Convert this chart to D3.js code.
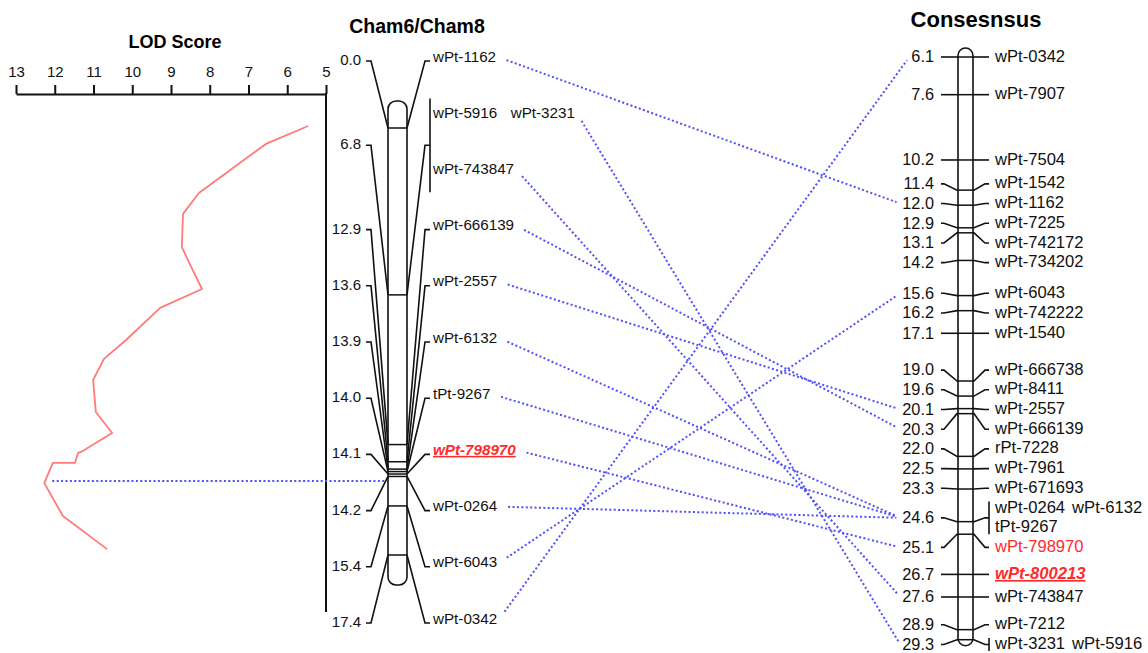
<!DOCTYPE html>
<html><head><meta charset="utf-8">
<script src="https://cdn.jsdelivr.net/npm/d3@7"></script>
<style>
body{margin:0;background:#fff}
svg{display:block}
text{font-family:"Liberation Sans",Arial,Helvetica,sans-serif}
</style>
</head><body>
<svg id="chart" width="1148" height="653"></svg>
<script>
// ---------------- DATA ----------------
const lodTicks = [13, 12, 11, 10, 9, 8, 7, 6, 5];
// LOD curve: position along Cham6/Cham8 (cM) and LOD score
const lodPositions = [-0.08, 0.65, 2.65, 3.5, 4.85, 5.66, 6.56, 7.33, 8.64, 9.41, 10.27, 11.57, 12.43, 13.2, 13.24, 13.65, 13.65, 14.47, 15.81, 17.16];
const lodScores    = [5.46, 6.55, 8.28, 8.69, 8.72, 8.48, 8.2, 9.28, 10.16, 10.73, 11.01, 10.94, 10.52, 11.32, 11.4, 11.48, 12.05, 12.27, 11.79, 10.65];
const qtlPeakPosition = 14.38;

const leftTitle = "Cham6/Cham8";
const leftPositions = [0.0, 6.8, 12.9, 13.6, 13.9, 14.0, 14.1, 14.2, 15.4, 17.4];
const leftMarkers = [
  [["wPt-1162"]],
  [["wPt-5916", "wPt-3231"], ["wPt-743847"]],
  [["wPt-666139"]],
  [["wPt-2557"]],
  [["wPt-6132"]],
  [["tPt-9267"]],
  [["wPt-798970"]],
  [["wPt-0264"]],
  [["wPt-6043"]],
  [["wPt-0342"]]
];

const rightTitle = "Consesnsus";
const rightPositions = [6.1, 7.6, 10.2, 11.4, 12.0, 12.9, 13.1, 14.2, 15.6, 16.2, 17.1, 19.0, 19.6, 20.1, 20.3, 22.0, 22.5, 23.3, 24.6, 25.1, 26.7, 27.6, 28.9, 29.3];
const rightMarkers = [
  [["wPt-0342"]], [["wPt-7907"]], [["wPt-7504"]], [["wPt-1542"]], [["wPt-1162"]],
  [["wPt-7225"]], [["wPt-742172"]], [["wPt-734202"]], [["wPt-6043"]], [["wPt-742222"]],
  [["wPt-1540"]], [["wPt-666738"]], [["wPt-8411"]], [["wPt-2557"]], [["wPt-666139"]],
  [["rPt-7228"]], [["wPt-7961"]], [["wPt-671693"]],
  [["wPt-0264", "wPt-6132"], ["tPt-9267"]],
  [["wPt-798970"]], [["wPt-800213"]], [["wPt-743847"]], [["wPt-7212"]],
  [["wPt-3231", "wPt-5916"]]
];

const linkedMarkers = ["wPt-1162", "wPt-3231", "wPt-743847", "wPt-666139", "wPt-2557", "wPt-6132", "tPt-9267", "wPt-798970", "wPt-0264", "wPt-6043", "wPt-0342"];
const qtlMarker = "wPt-798970";
const flankMarker = "wPt-800213";

// ---------------- LAYOUT ----------------
const svg = d3.select("#chart");
const fmt = d3.format(".1f");
const RED = "#ff2b2b", BLUE = "#4f4fff", CURVE = "#ff7b7b";

const xLod = d3.scaleLinear().domain([13, 5]).range([16, 326]);
const yLeft = d3.scaleLinear().domain([0, 17.4]).range([128, 555]);
const yRight = d3.scaleLinear().domain([6.1, 27.6]).range([57, 597]);
const line = d3.line();

// ---- LOD panel ----
svg.append("text").attr("x", 175).attr("y", 48).attr("text-anchor", "middle")
  .attr("font-size", 18).attr("font-weight", "bold").text("LOD Score");

const axisG = svg.append("g").attr("transform", "translate(0,94)")
  .call(d3.axisTop(xLod).tickValues(lodTicks).tickSize(9).tickSizeOuter(0).tickPadding(8).tickFormat(d3.format("d")));
axisG.selectAll("path,line").attr("stroke", "#111").attr("stroke-width", 2);
axisG.selectAll("text").attr("font-size", 15).attr("fill", "#111")
  .style("font-family", '"Liberation Sans",Arial,sans-serif');

// vertical axis of LOD panel
svg.append("line").attr("x1", xLod(5)).attr("x2", xLod(5))
  .attr("y1", 93).attr("y2", 612).attr("stroke", "#111").attr("stroke-width", 2);

const lodPts = lodPositions.map((p, i) => [xLod(lodScores[i]), yLeft(p)]);
svg.append("path").attr("d", line(lodPts)).attr("fill", "none")
  .attr("stroke", CURVE).attr("stroke-width", 1.8).attr("stroke-linejoin", "round");

// peak dotted line
svg.append("line")
  .attr("x1", xLod(d3.max(lodScores)) + 8).attr("x2", 386)
  .attr("y1", yLeft(qtlPeakPosition)).attr("y2", yLeft(qtlPeakPosition))
  .attr("stroke", BLUE).attr("stroke-width", 2).attr("stroke-dasharray", "2,2.4");

// ---- Left map ----
const L = {cx0: 388, cx1: 407, numX: 361, tickL0: 366, tickL1: 371, tickR0: 425, tickR1: 430, textX: 433, fs: 15.2, gap: 13.5};
svg.append("text").attr("x", 417).attr("y", 33).attr("text-anchor", "middle")
  .attr("font-size", 19.5).attr("font-weight", "bold").text(leftTitle);

const totalLeftRows = d3.sum(leftMarkers, d => d.length);
const leftRowY = d3.scaleLinear().domain([0, totalLeftRows - 1]).range([61, 623]);
const leftRowSpacing = leftRowY(1) - leftRowY(0);

svg.append("rect").attr("x", L.cx0).attr("width", L.cx1 - L.cx0)
  .attr("y", yLeft(0) - 27).attr("height", yLeft(17.4) + 30 - (yLeft(0) - 27))
  .attr("rx", 8).attr("fill", "#fff").attr("stroke", "#111").attr("stroke-width", 1.6);

const markerPos = {}; // name -> {endX, y}
let rowCounter = 0;
const gL = svg.append("g");
leftPositions.forEach((p, i) => {
  const rows = leftMarkers[i];
  const rowYs = rows.map((_, k) => leftRowY(rowCounter + k));
  rowCounter += rows.length;
  const cy = d3.mean(rowYs);
  const band = yLeft(p);
  gL.append("line").attr("x1", L.cx0).attr("x2", L.cx1).attr("y1", band).attr("y2", band)
    .attr("stroke", "#111").attr("stroke-width", 1.5);
  gL.append("path").attr("d", line([[L.tickL0, cy], [L.tickL1, cy], [L.cx0, band]]))
    .attr("fill", "none").attr("stroke", "#111").attr("stroke-width", 1.6);
  gL.append("path").attr("d", line([[L.cx1, band], [L.tickR0, cy], [L.tickR1, cy]]))
    .attr("fill", "none").attr("stroke", "#111").attr("stroke-width", 1.6);
  gL.append("text").attr("x", L.numX).attr("y", cy + 4).attr("text-anchor", "end")
    .attr("font-size", 15).attr("fill", "#111").text(fmt(p));
  const nNames = d3.sum(rows, r => r.length);
  if (nNames > 1) {
    gL.append("line").attr("x1", L.tickR1).attr("x2", L.tickR1)
      .attr("y1", rowYs[0] - leftRowSpacing / 3).attr("y2", rowYs[rowYs.length - 1] + leftRowSpacing / 3)
      .attr("stroke", "#111").attr("stroke-width", 1.6);
  }
  rows.forEach((names, k) => {
    let x = L.textX;
    names.forEach(nm => {
      const t = gL.append("text").attr("x", x).attr("y", rowYs[k] + 0.5)
        .attr("font-size", L.fs).attr("fill", "#111").text(nm);
      if (nm === qtlMarker) {
        t.attr("fill", RED).attr("font-weight", "bold").attr("font-style", "italic")
          .attr("text-decoration", "underline");
      }
      const w = t.node().getComputedTextLength();
      markerPos[nm] = {endX: x + w, y: rowYs[k] - 4};
      x += w + L.gap;
    });
  });
});

// ---- Right map ----
const R = {cx0: 958, cx1: 973, numX: 934, textX: 995, fs: 16.6, nfs: 16.3, gap: 7, rowGap: 19.7, base: 4.6};
svg.append("text").attr("x", 976).attr("y", 27).attr("text-anchor", "middle")
  .attr("font-size", 22).attr("font-weight", "bold").text(rightTitle);

svg.append("rect").attr("x", R.cx0).attr("width", R.cx1 - R.cx0)
  .attr("y", yRight(6.1) - 9).attr("height", yRight(29.3) + 6 - (yRight(6.1) - 9))
  .attr("rx", 7.5).attr("fill", "#fff").attr("stroke", "#111").attr("stroke-width", 1.6);

// label de-overlap by cluster merging
function layoutCluster(c) {
  let acc = 0; const offs = [];
  c.idx.forEach(i => { const h = rightMarkers[i].length * R.rowGap; offs.push(acc + h / 2); acc += h; });
  c.height = acc; c.offs = offs;
  c.top = d3.mean(c.idx.map((i, k) => yRight(rightPositions[i]) - offs[k]));
}
let clusters = rightPositions.map((_, i) => ({idx: [i]}));
clusters.forEach(layoutCluster);
let merged = true;
while (merged) {
  merged = false;
  for (let k = 0; k < clusters.length - 1; k++) {
    const a = clusters[k], b = clusters[k + 1];
    if (a.top + a.height > b.top + 0.01) {
      const c = {idx: a.idx.concat(b.idx)}; layoutCluster(c);
      clusters.splice(k, 2, c); merged = true; break;
    }
  }
}
const rightCenter = [];
clusters.forEach(c => c.idx.forEach((i, k) => { rightCenter[i] = c.top + c.offs[k]; }));

const rightNumLeft = {}; // marker -> {x, y}
const gR = svg.append("g");
rightPositions.forEach((p, i) => {
  const rows = rightMarkers[i];
  const cy = rightCenter[i];
  const rowYs = rows.map((_, k) => cy + (k - (rows.length - 1) / 2) * R.rowGap);
  const band = yRight(p);
  gR.append("line").attr("x1", R.cx0).attr("x2", R.cx1).attr("y1", band).attr("y2", band)
    .attr("stroke", "#111").attr("stroke-width", 1.5);
  gR.append("path").attr("d", line([[941, cy], [944, cy], [R.cx0 - 1, band], [R.cx0, band]]))
    .attr("fill", "none").attr("stroke", "#111").attr("stroke-width", 1.6);
  gR.append("path").attr("d", line([[R.cx1, band], [R.cx1 + 1, band], [985, cy], [989, cy]]))
    .attr("fill", "none").attr("stroke", "#111").attr("stroke-width", 1.6);
  const nt = gR.append("text").attr("x", R.numX).attr("y", cy + R.base + 0.8).attr("text-anchor", "end")
    .attr("font-size", R.nfs).attr("fill", "#111").text(fmt(p));
  const nw = nt.node().getComputedTextLength();
  const nNames = d3.sum(rows, r => r.length);
  if (nNames > 1) {
    gR.append("line").attr("x1", 989).attr("x2", 989)
      .attr("y1", rowYs[0] - R.rowGap / 3).attr("y2", rowYs[rowYs.length - 1] + R.rowGap / 3)
      .attr("stroke", "#111").attr("stroke-width", 1.6);
  }
  rows.forEach((names, k) => {
    let x = R.textX;
    names.forEach(nm => {
      const t = gR.append("text").attr("x", x).attr("y", rowYs[k] + R.base)
        .attr("font-size", R.fs).attr("fill", "#111").text(nm);
      if (nm === qtlMarker) t.attr("fill", RED);
      if (nm === flankMarker) {
        t.attr("fill", RED).attr("font-weight", "bold").attr("font-style", "italic")
          .attr("text-decoration", "underline");
      }
      x += t.node().getComputedTextLength() + R.gap;
      rightNumLeft[nm] = {x: R.numX - nw, y: cy};
    });
  });
});

// ---- Links between maps ----
const gLinks = svg.append("g");
linkedMarkers.forEach(nm => {
  const a = markerPos[nm], b = rightNumLeft[nm];
  if (!a || !b) return;
  const A = [a.endX + 2, a.y], B = [b.x - 2, b.y];
  const dx = B[0] - A[0], dy = B[1] - A[1], len = Math.hypot(dx, dy);
  const ux = dx / len, uy = dy / len;
  gLinks.append("line")
    .attr("x1", A[0] + ux * 9).attr("y1", A[1] + uy * 9)
    .attr("x2", B[0] - ux * 4).attr("y2", B[1] - uy * 4)
    .attr("stroke", BLUE).attr("stroke-width", 2).attr("stroke-dasharray", "2,2.4");
});
</script>
</body></html>
